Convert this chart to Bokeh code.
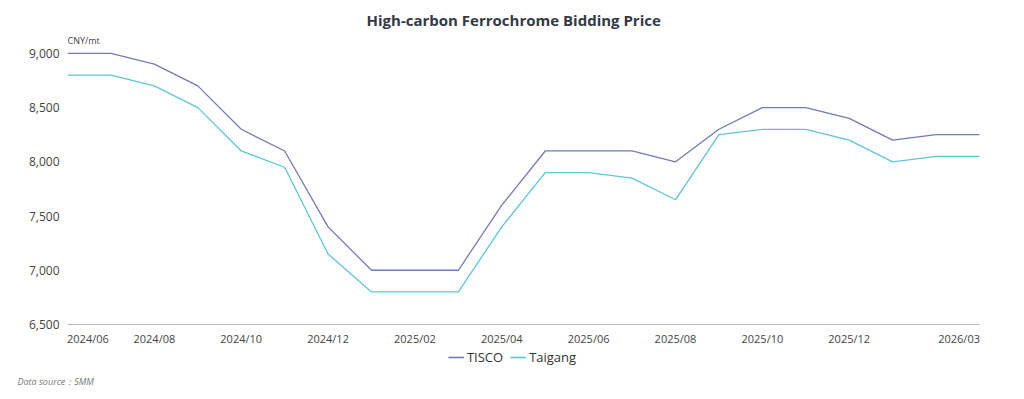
from bokeh.plotting import figure
from bokeh.layouts import column
from bokeh.models import Range1d, FixedTicker, Label, Legend, LegendItem, NumeralTickFormatter
from bokeh.embed import file_html
from bokeh.resources import INLINE

months = ["2024/06", "2024/07", "2024/08", "2024/09", "2024/10", "2024/11", "2024/12",
          "2025/01", "2025/02", "2025/03", "2025/04", "2025/05", "2025/06", "2025/07",
          "2025/08", "2025/09", "2025/10", "2025/11", "2025/12", "2026/01", "2026/02", "2026/03"]
tisco = [9000, 9000, 8900, 8700, 8300, 8100, 7400, 7000, 7000, 7000, 7600, 8100,
         8100, 8100, 8000, 8300, 8500, 8500, 8400, 8200, 8250, 8250]
taigang = [8800, 8800, 8700, 8500, 8100, 7950, 7150, 6800, 6800, 6800, 7400, 7900,
           7900, 7850, 7650, 8250, 8300, 8300, 8200, 8000, 8050, 8050]
y_ticks = [6500, 7000, 7500, 8000, 8500, 9000]
shown_labels = ["2024/06", "2024/08", "2024/10", "2024/12", "2025/02", "2025/04",
                "2025/06", "2025/08", "2025/10", "2025/12", "2026/03"]

FONT = "Open Sans"
C_TISCO = "#7779b4"
C_TAIGANG = "#5ec6da"

x = list(range(len(months)))

p = figure(width=1024, height=348, output_backend="svg", toolbar_location=None,
           x_range=Range1d(0, len(months) - 1), y_range=Range1d(6500, 9220),
           min_border_left=67, min_border_right=45, min_border_top=29, min_border_bottom=23,
           title="High-carbon Ferrochrome Bidding Price")
p.frame_align = False
p.title.align = "left"
p.title.offset = 299
p.title.text_font = FONT
p.title.text_font_size = "15px"
p.title.text_font_style = "bold"
p.title.text_color = "#333a45"
p.title.standoff = 0

p.outline_line_color = None
p.xgrid.visible = False
p.ygrid.visible = False

r1 = p.line(x, tisco, line_color=C_TISCO, line_width=1.3)
r2 = p.line(x, taigang, line_color=C_TAIGANG, line_width=1.3)

# x axis labels
tick_pos = []
overrides = {}
for lab in shown_labels:
    i = months.index(lab)
    pos = float(i)
    if i == 0:
        pos = 0.47
    elif i == len(months) - 1:
        pos = i - 0.47
    tick_pos.append(pos)
    overrides[pos] = lab
p.xaxis.ticker = FixedTicker(ticks=tick_pos)
p.xaxis.major_label_overrides = overrides
p.xaxis.major_tick_line_color = None
p.xaxis.minor_tick_line_color = None
p.xaxis.axis_line_color = "#b8bcc4"
p.xaxis.major_label_text_font = FONT
p.xaxis.major_label_text_font_size = "11px"
p.xaxis.major_label_text_color = "#444"
p.xaxis.major_label_standoff = 0

p.yaxis.ticker = FixedTicker(ticks=y_ticks)
p.yaxis.formatter = NumeralTickFormatter(format="0,0")
p.yaxis.axis_line_color = None
p.yaxis.major_tick_line_color = None
p.yaxis.minor_tick_line_color = None
p.yaxis.major_label_text_font = FONT
p.yaxis.major_label_text_font_size = "12px"
p.yaxis.major_label_text_color = "#444"
p.yaxis.major_label_standoff = 2

unit = Label(x=0, y=9119, text="CNY/mt", text_font=FONT, text_font_size="9px",
             text_color="#444", text_baseline="middle", text_align="left")
p.add_layout(unit)

# bottom strip: legend + source note
p2 = figure(width=1024, height=51, output_backend="svg", toolbar_location=None,
            x_range=Range1d(0, 1), y_range=Range1d(0, 1),
            x_axis_location=None, y_axis_location=None, min_border=0)
p2.frame_align = False
p2.outline_line_color = None
p2.xgrid.visible = False
p2.ygrid.visible = False
d1 = p2.line([-10, -9], [-10, -10], line_color=C_TISCO, line_width=1.6)
d2 = p2.line([-10, -9], [-10, -10], line_color=C_TAIGANG, line_width=1.6)

legend = Legend(items=[LegendItem(label="TISCO", renderers=[d1]),
                       LegendItem(label="Taigang", renderers=[d2])],
                orientation="horizontal", location="top_center",
                label_text_font=FONT, label_text_font_size="13px", label_text_color="#333",
                glyph_width=16, glyph_height=12, spacing=7, label_standoff=3,
                background_fill_alpha=0, border_line_color=None, padding=0, margin=0,
                label_height=18)
p2.add_layout(legend)

src = Label(x=17, y=18, x_units="screen", y_units="screen", text="Data source：SMM",
            text_font=FONT, text_font_size="9px", text_font_style="italic",
            text_color="#777", text_baseline="middle", text_align="left")
p2.add_layout(src)

layout = column(p, p2, spacing=0)
open("out.html", "w").write(file_html(layout, INLINE))
